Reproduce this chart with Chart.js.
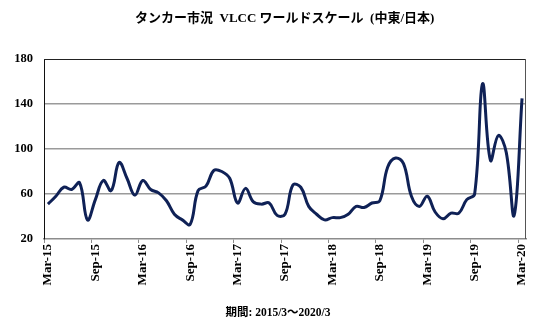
<!DOCTYPE html>
<html>
<head>
<meta charset="utf-8">
<script src="https://cdn.jsdelivr.net/npm/chart.js@4.4.1/dist/chart.umd.min.js"></script>
<style>
  html, body { margin: 0; padding: 0; background: #ffffff; }
  #wrap { width: 546px; height: 324px; position: relative; }
</style>
</head>
<body>
<div id="wrap"><canvas id="chart" width="546" height="324"></canvas></div>
<script>
// Monthly VLCC Worldscale, Middle East -> Japan, Mar 2015 to Mar 2020
const months = [
  'Mar-15','Apr-15','May-15','Jun-15','Jul-15','Aug-15','Sep-15','Oct-15','Nov-15','Dec-15','Jan-16','Feb-16',
  'Mar-16','Apr-16','May-16','Jun-16','Jul-16','Aug-16','Sep-16','Oct-16','Nov-16','Dec-16','Jan-17','Feb-17',
  'Mar-17','Apr-17','May-17','Jun-17','Jul-17','Aug-17','Sep-17','Oct-17','Nov-17','Dec-17','Jan-18','Feb-18',
  'Mar-18','Apr-18','May-18','Jun-18','Jul-18','Aug-18','Sep-18','Oct-18','Nov-18','Dec-18','Jan-19','Feb-19',
  'Mar-19','Apr-19','May-19','Jun-19','Jul-19','Aug-19','Sep-19','Oct-19','Nov-19','Dec-19','Jan-20','Feb-20',
  'Mar-20'
];
const worldscale = [
  51, 58, 66, 64, 70, 37, 55, 72, 63, 88, 74, 59,
  72, 64, 61, 54, 42, 37, 33, 63, 67, 81, 80, 74,
  52, 65, 53, 51, 52, 41, 42, 68, 66, 49, 42, 37,
  39, 39, 42, 49, 48, 52, 54, 84, 92, 87, 58, 49,
  58, 44, 38, 43, 43, 55, 60, 158, 90, 112, 97, 41,
  145
];
const yTicks = [20, 60, 100, 140, 180];
const titleText = 'タンカー市況  VLCC ワールドスケール  (中東/日本)';
const footerText = '期間: 2015/3～2020/3';
const labelEvery = 6;

const serif = '"Liberation Serif", "Times New Roman", "Noto Sans CJK JP", serif';
const cjk = '"Liberation Serif", "Noto Sans CJK JP", sans-serif';

// Box around the plot area plus the heading and period text
const framePlugin = {
  id: 'frame',
  afterDraw(chart) {
    const { ctx, chartArea: a } = chart;
    ctx.save();
    ctx.lineWidth = 1;
    ctx.strokeStyle = '#222222';
    ctx.beginPath();
    ctx.moveTo(a.left, a.top + 0.5);
    ctx.lineTo(a.right, a.top + 0.5);
    ctx.stroke();
    ctx.strokeStyle = '#555555';
    ctx.beginPath();
    ctx.moveTo(a.right - 0.5, a.top);
    ctx.lineTo(a.right - 0.5, a.bottom);
    ctx.stroke();

    ctx.fillStyle = '#000000';
    ctx.textBaseline = 'middle';
    ctx.textAlign = 'left';
    ctx.font = 'bold 13px ' + cjk;
    ctx.fillText(titleText, 135, 19);
    ctx.font = 'bold 11.5px ' + cjk;
    ctx.textAlign = 'center';
    ctx.fillText(footerText, 278, 313);
    ctx.restore();
  }
};

new Chart(document.getElementById('chart'), {
  type: 'line',
  data: {
    labels: months,
    datasets: [{
      data: worldscale,
      borderColor: '#0f2156',
      borderWidth: 3,
      pointRadius: 0,
      tension: 0.4,
      fill: false
    }]
  },
  options: {
    responsive: false,
    animation: false,
    layout: { padding: { top: 59, right: 20, bottom: 0, left: 0 } },
    plugins: { legend: { display: false }, tooltip: { enabled: false }, title: { display: false } },
    scales: {
      x: {
        type: 'category',
        offset: true,
        afterFit(scale) { scale.height = 85; },
        grid: {
          offset: true,
          drawOnChartArea: false,
          drawTicks: true,
          tickLength: 4,
          tickWidth: 1,
          tickColor: (c) => (c.index % labelEvery === 0 ? '#8c8c8c' : 'rgba(0,0,0,0)')
        },
        border: { display: true, color: '#8c8c8c', width: 1.5 },
        ticks: {
          autoSkip: false,
          minRotation: 90,
          maxRotation: 90,
          padding: 1,
          color: '#000000',
          font: { family: serif, size: 13, weight: 'bold' },
          callback(value, index) { return index % labelEvery === 0 ? months[index] : ''; }
        }
      },
      y: {
        min: 20,
        max: 180,
        afterFit(scale) { scale.width = 44; },
        afterBuildTicks(scale) { scale.ticks = yTicks.map(v => ({ value: v })); },
        grid: {
          drawTicks: false,
          lineWidth: 1.5,
          color: (c) => (c.tick && (c.tick.value === 20 || c.tick.value === 180) ? 'rgba(0,0,0,0)' : '#9a9a9a')
        },
        border: { display: true, color: '#111111', width: 1 },
        ticks: {
          padding: 11,
          color: '#000000',
          font: { family: serif, size: 12.5, weight: 'bold' }
        }
      }
    }
  },
  plugins: [framePlugin]
});
</script>
</body>
</html>
